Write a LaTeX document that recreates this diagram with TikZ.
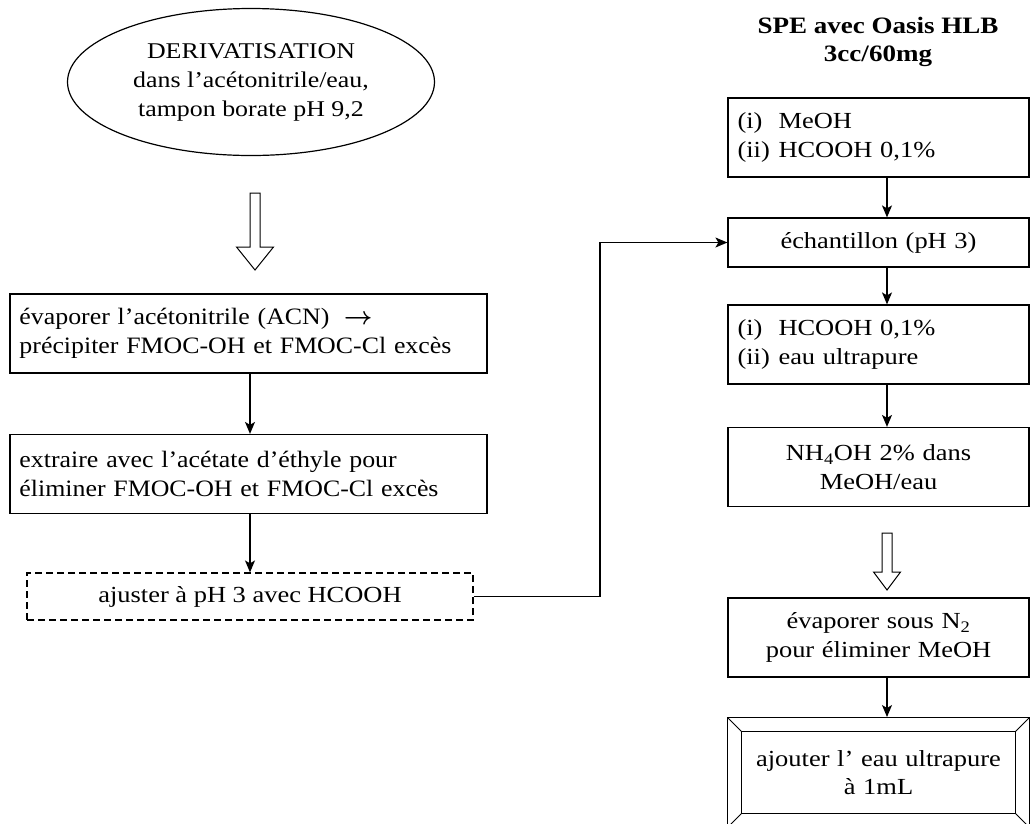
\documentclass[tikz,border=0pt]{standalone}
\usepackage{fontspec}
\setmainfont[FakeStretch=1.15]{Liberation Serif}
\newfontfamily\widefont[Ligatures=TeX,FakeStretch=1.1]{Liberation Serif}
\usetikzlibrary{arrows.meta,shapes.geometric}
% hollow block arrow: x, top, start of head, tip, half width of head
\newcommand{\hollowdown}[5]{%
\draw[line width=1pt] (#1-5,#2) -- (#1+5,#2) -- (#1+5,#3) -- (#1+#5,#3) -- (#1,#4)
  -- (#1-#5,#3) -- (#1-5,#3) -- cycle;}
\tikzset{
  txt/.style={font=\fontsize{23}{28.5}\selectfont},
  stepbox/.style={txt, draw, line width=1.2pt, inner xsep=9.5pt, inner ysep=0pt},
  leftbox/.style={stepbox, font=\fontsize{23.5}{29.5}\widefont, text width=458pt, align=left, minimum height=79pt},
  spebox/.style={stepbox, text width=282pt, minimum height=79pt},
  arr/.style={-{Stealth[length=12pt,width=10pt,inset=3pt]}, line width=1.3pt}
}
\begin{document}
\begin{tikzpicture}[x=1pt,y=-1pt]
\useasboundingbox (0,0) rectangle (1032,823);

% left column
\node[ellipse, draw, line width=1.2pt, font=\fontsize{22.5}{29}\selectfont, minimum width=367pt, minimum height=147pt, align=center, inner sep=0pt]
  (deriv) at (251,82) {DERIVATISATION\\dans l'acétonitrile/eau,\\tampon borate pH 9,2};
\hollowdown{255}{193}{247}{270}{18.5}
\node[leftbox] (evap) at (248.5,333.5)
  {évaporer l'acétonitrile (ACN) \;{\boldmath$\rightarrow$}\\précipiter FMOC-OH et FMOC-Cl excès};
\node[leftbox] (extr) at (248.5,474)
  {extraire avec l'acétate d'éthyle pour\\éliminer FMOC-OH et FMOC-Cl excès};
\node[stepbox, dash pattern=on 7pt off 4pt, minimum width=446pt, minimum height=47pt, align=center]
  (adj) at (250,596.5) {ajuster à pH 3 avec HCOOH};
\draw[arr] (250,373) -- (extr.north -| 250,0);
\draw[arr] (250,513) -- (adj.north -| 250,0);

% right column
\node[txt, font=\fontsize{23.5}{28.5}\selectfont\bfseries, align=center] (titre) at (878,42)
  {SPE avec Oasis HLB\\3cc/60mg};
\node[spebox, align=left] (cond) at (878.5,137.5)
  {\makebox[41pt][l]{(i)}MeOH\\\makebox[41pt][l]{(ii)}HCOOH 0,1\%};
\node[spebox, align=center, minimum height=49pt] (ech) at (878.5,242.5) {échantillon (pH 3)};
\node[spebox, align=left] (lav) at (878.5,344.5)
  {\makebox[41pt][l]{(i)}HCOOH 0,1\%\\\makebox[41pt][l]{(ii)}eau ultrapure};
\node[spebox, align=center] (elu) at (878.5,467)
  {NH\textsubscript{4}OH 2\% dans\\MeOH/eau};
\hollowdown{887}{533}{572}{590}{13.5}
\node[spebox, align=center] (sec) at (878.5,637.5)
  {évaporer sous N\textsubscript{2}\\pour éliminer MeOH};
\node[txt, text width=255pt, align=center, minimum height=81pt, inner xsep=9pt, inner ysep=0pt]
  (fin) at (878.5,772.5) {ajouter l' eau ultrapure\\à 1mL};
\draw[line width=1.2pt] (fin.north west) rectangle (fin.south east);
\draw[line width=1.2pt] ([shift={(-14pt,14pt)}]fin.north west) rectangle ([shift={(14pt,-14pt)}]fin.south east);
\draw[line width=1pt] ([shift={(-14pt,14pt)}]fin.north west) -- (fin.north west);
\draw[line width=1pt] ([shift={(14pt,14pt)}]fin.north east) -- (fin.north east);
\draw[line width=1pt] ([shift={(-14pt,-14pt)}]fin.south west) -- (fin.south west);
\draw[line width=1pt] ([shift={(14pt,-14pt)}]fin.south east) -- (fin.south east);

\draw[arr] (887,177) -- (ech.north -| 887,0);
\draw[arr] (887,267) -- (lav.north -| 887,0);
\draw[arr] (887,384) -- (elu.north -| 887,0);
\draw[arr] (887,677) -- (887,717);

% link between the two columns
\coordinate (coude) at (600,596.5);
\draw[arr] (adj.east) -- (coude) |- (ech.west);
\end{tikzpicture}
\end{document}
